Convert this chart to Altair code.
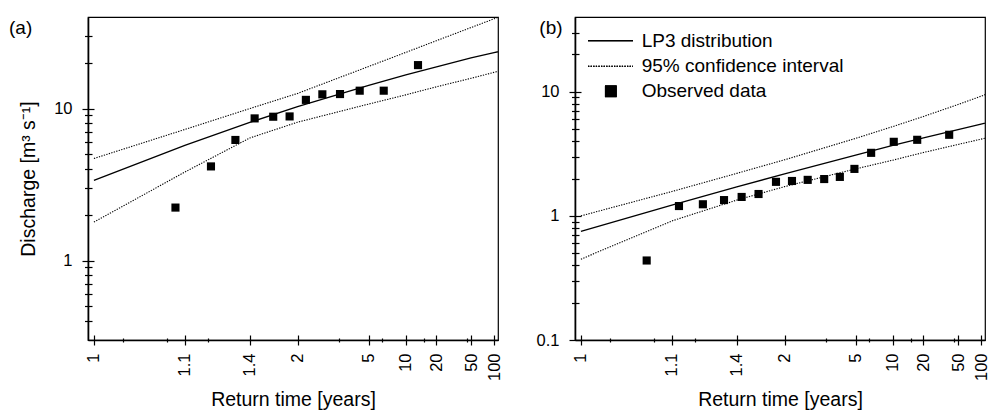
import altair as alt
import pandas as pd
from statistics import NormalDist

# ---------------- data ----------------
# return periods (years) at which the fitted curves are drawn
curve_T = [1.008, 1.1, 1.4, 2, 5, 10, 20, 50, 100, 160]

# panel (a)
lp3_a = [3.37, 5.73, 8.10, 10.28, 14.2, 16.65, 18.8, 21.5, 23.3, 24.5]
up_a = [4.69, 7.28, 9.99, 12.57, 18.9, 23.4, 27.95, 34.1, 38.9, 42.4]
lo_a = [1.79, 3.82, 6.4, 8.13, 10.7, 12.3, 13.9, 15.8, 17.3, 18.3]
obs_T_a = [1.08, 1.18, 1.30, 1.44, 1.63, 1.86, 2.17, 2.6, 3.25, 4.33, 6.5, 13.0]
obs_Q_a = [2.23, 4.16, 6.21, 8.61, 8.83, 8.87, 11.4, 12.4, 12.45, 13.1, 13.1, 19.3]

# panel (b)
lp3_b = [0.75, 1.22, 1.71, 2.18, 3.09, 3.69, 4.25, 4.96, 5.49, 5.85]
up_b = [1.0, 1.57, 2.20, 2.83, 4.21, 5.24, 6.32, 7.89, 9.2, 10.2]
lo_b = [0.448, 0.91, 1.34, 1.72, 2.39, 2.81, 3.24, 3.76, 4.15, 4.42]
obs_T_b = [1.054, 1.118, 1.2, 1.31, 1.44, 1.61, 1.85, 2.15, 2.55, 3.13, 3.9, 4.9, 6.55, 10.2, 17.2, 39]
obs_Q_b = [0.437, 1.2, 1.24, 1.34, 1.42, 1.5, 1.88, 1.91, 1.95, 1.98, 2.06, 2.39, 3.22, 3.95, 4.1, 4.5]

# axis ticks
x_tick_T = [1.008, 1.1, 1.4, 2, 5, 10, 20, 50, 100]
x_tick_labels = ["1", "1.1", "1.4", "2", "5", "10", "20", "50", "100"]
x_minor_T = [1.02, 1.065, 1.17, 3.2, 6.3, 15, 45]

y_major_a = [1, 10]
y_minor_a = [0.4, 0.5, 0.6, 0.7, 0.8, 0.9, 2, 3, 4, 5, 6, 7, 8, 9, 20, 30]
y_major_b = [0.1, 1, 10]
y_minor_b = [0.2, 0.3, 0.4, 0.5, 0.6, 0.7, 0.8, 0.9, 2, 3, 4, 5, 6, 7, 8, 9, 20, 30]

legend_labels = ["LP3 distribution", "95% confidence interval", "Observed data"]

# ---------------- helpers ----------------
nd = NormalDist()


def zq(T):
    return nd.inv_cdf(1 - 1 / T)


x_major_z = [zq(t) for t in x_tick_T]
x_minor_z = [zq(t) for t in x_minor_T]
x_dom = [x_major_z[0] - 0.07, x_major_z[-1] + 0.047]

cuts = [(x_major_z[i] + x_major_z[i + 1]) / 2 for i in range(len(x_major_z) - 1)]
label_expr = "'%s'" % x_tick_labels[-1]
for c, lab in reversed(list(zip(cuts, x_tick_labels[:-1]))):
    label_expr = "datum.value < %.5f ? '%s' : (%s)" % (c, lab, label_expr)

ZCALC = "quantileNormal(1 - 1/datum.T)"
W, H = 410, 323
FONT = "Liberation Sans"


def panel(lp3, up, lo, obs_T, obs_Q, ydom, ymaj, ymin, ytitle, tag, tag_x, legend):
    curves = pd.DataFrame({"T": curve_T, "lp3": lp3, "up": up, "lo": lo})
    obs = pd.DataFrame({"T": obs_T, "Q": obs_Q})
    xs = alt.Scale(domain=x_dom, nice=False, zero=False)
    ys = alt.Scale(type="log", domain=ydom, nice=False)

    ax_x_major = alt.Axis(orient="bottom", values=x_major_z, labelExpr=label_expr, labelAngle=270,
                          tickSize=5, labelPadding=8, titlePadding=10,
                          title="Return time [years]", domain=True)
    ax_x_minor = alt.Axis(orient="bottom", values=x_minor_z, labels=False, tickSize=2,
                          domain=False, title=None)
    ax_x_major_in = alt.Axis(orient="bottom", values=x_major_z, labels=False, tickSize=5,
                             offset=-5, domain=False, title=None)
    ax_x_minor_in = alt.Axis(orient="bottom", values=x_minor_z, labels=False, tickSize=2,
                             offset=-2, domain=False, title=None)

    if ytitle:
        ax_y_major = alt.Axis(orient="left", values=ymaj, format="~g", tickSize=6,
                              labelPadding=10, titlePadding=15, title=ytitle, domain=True)
    else:
        ax_y_major = alt.Axis(orient="left", values=ymaj, format="~g", tickSize=6,
                              labelPadding=10, title=None, domain=True)
    ax_y_minor = alt.Axis(orient="left", values=ymin, labels=False, tickSize=3.5,
                          domain=False, title=None)
    ax_y_major_in = alt.Axis(orient="left", values=ymaj, labels=False, tickSize=6, offset=-6,
                             domain=False, title=None)
    ax_y_minor_in = alt.Axis(orient="left", values=ymin, labels=False, tickSize=4, offset=-4,
                             domain=False, title=None)

    base = alt.Chart(curves).transform_calculate(z=ZCALC)
    upper = base.mark_line(clip=True, strokeDash=[1.3, 1.3], strokeWidth=1.1, color="black").encode(
        x=alt.X("z:Q", scale=xs, axis=ax_x_major),
        y=alt.Y("up:Q", scale=ys, axis=ax_y_major),
    )
    lower = base.mark_line(clip=True, strokeDash=[1.3, 1.3], strokeWidth=1.1, color="black").encode(
        x=alt.X("z:Q", scale=xs, axis=ax_x_minor),
        y=alt.Y("lo:Q", scale=ys, axis=ax_y_minor),
    )
    mid = base.mark_line(clip=True, strokeWidth=1.3, color="black").encode(
        x=alt.X("z:Q", scale=xs, axis=ax_x_major_in),
        y=alt.Y("lp3:Q", scale=ys, axis=ax_y_major_in),
    )
    pts = alt.Chart(obs).transform_calculate(z=ZCALC).mark_point(
        shape="square", filled=True, size=66, color="black", opacity=1
    ).encode(
        x=alt.X("z:Q", scale=xs, axis=ax_x_minor_in),
        y=alt.Y("Q:Q", scale=ys, axis=ax_y_minor_in),
    )

    tag_df = pd.DataFrame({"label": [tag]})
    tag_mark = alt.Chart(tag_df).mark_text(
        align="left", baseline="middle", fontSize=19, font=FONT, color="black"
    ).encode(x=alt.value(tag_x), y=alt.value(11), text="label:N")

    layers = [upper, lower, mid, pts, tag_mark]

    if legend:
        ldf = pd.DataFrame({"label": legend_labels})
        l1 = alt.Chart(ldf).mark_rule(strokeWidth=1.3, color="black").encode(
            x=alt.value(13), x2=alt.value(58), y=alt.value(23.6))
        l2 = alt.Chart(ldf).mark_rule(strokeWidth=1.1, color="black", strokeDash=[1.3, 1.3]).encode(
            x=alt.value(13), x2=alt.value(58), y=alt.value(49.3))
        l3 = alt.Chart(ldf).mark_point(shape="square", filled=True, size=137,
                                        color="black", opacity=1).encode(
            x=alt.value(35.8), y=alt.value(74.3))
        ys_leg = [23.6, 49.3, 74.3]
        for i, yy in enumerate(ys_leg):
            t = alt.Chart(ldf).transform_filter(
                alt.datum.label == legend_labels[i]
            ).mark_text(align="left", baseline="middle", fontSize=19, font=FONT,
                        color="black").encode(
                x=alt.value(66.7), y=alt.value(yy), text="label:N")
            layers.append(t)
        layers += [l1, l2, l3]

    return alt.layer(*layers).resolve_axis(x="independent", y="independent").properties(
        width=W, height=H)


pa = panel(lp3_a, up_a, lo_a, obs_T_a, obs_Q_a, [0.3, 40], y_major_a, y_minor_a,
           "Discharge [m\u00b3 s\u207b\u00b9]", "(a)", -79, False)
pb = panel(lp3_b, up_b, lo_b, obs_T_b, obs_Q_b, [0.1, 40], y_major_b, y_minor_b,
           None, "(b)", -35.7, True)

chart = alt.hconcat(pa, pb, spacing=31).properties(
    padding={"left": 0, "top": 8, "right": 0, "bottom": 0}
).configure_axis(
    grid=False, labelFont=FONT, titleFont=FONT, labelFontSize=16.5, titleFontSize=19.5,
    titleFontWeight="normal", labelColor="black", titleColor="black",
    tickColor="black", domainColor="black", tickWidth=1.2, domainWidth=1.6,
).configure_view(stroke="black", strokeWidth=1.2)

chart.save("out.html", embed_options={"renderer": "svg", "actions": False})
